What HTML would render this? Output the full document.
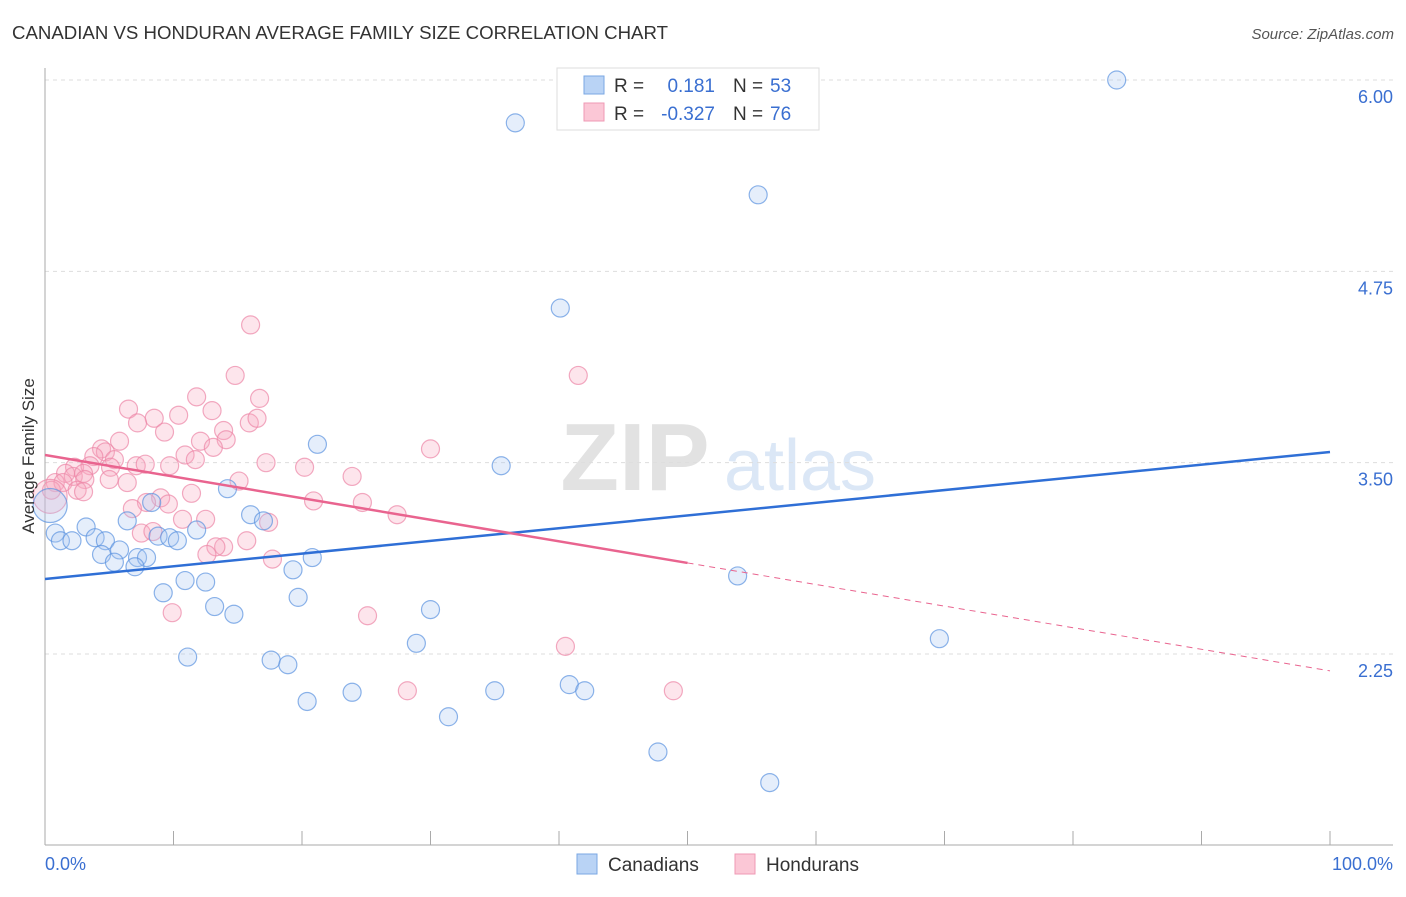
<!DOCTYPE html>
<html><head><meta charset="utf-8"><style>
body{margin:0;background:#fff;font-family:"Liberation Sans",sans-serif;}
svg text{font-family:"Liberation Sans",sans-serif;}
</style></head><body>
<svg width="1406" height="892">
<text x="12" y="39" font-size="18.5" fill="#333" textLength="656" lengthAdjust="spacingAndGlyphs">CANADIAN VS HONDURAN AVERAGE FAMILY SIZE CORRELATION CHART</text>
<text x="1394" y="39" font-size="15" fill="#555" font-style="italic" text-anchor="end">Source: ZipAtlas.com</text>
<g>
<text x="635" y="490" font-size="96" fill="#e2e2e2" text-anchor="middle" font-family="Liberation Serif" font-weight="bold">ZIP</text>
<text x="800" y="490" font-size="72" fill="#dbe7f6" text-anchor="middle">atlas</text>
</g>
<g id="grid"></g>
<g id="axes"></g>
<g id="marks"></g>
<g id="lines"></g>
<text x="34" y="456" font-size="17" fill="#333" text-anchor="middle" transform="rotate(-90 34 456)">Average Family Size</text>
<g>
<rect x="557" y="68" width="262" height="62" fill="#fff" stroke="#ddd"/>
<rect x="584" y="76" width="20" height="18" fill="#b9d3f5" stroke="#7aa7e3"/>
<rect x="584" y="103" width="20" height="18" fill="#fbc7d6" stroke="#ef9ab4"/>
<text x="614" y="92" font-size="19" fill="#333">R = </text><text x="715" y="92" font-size="19" fill="#3a6fd1" text-anchor="end">0.181</text>
<text x="733" y="92" font-size="19" fill="#333">N = </text><text x="770" y="92" font-size="19" fill="#3a6fd1">53</text>
<text x="614" y="120" font-size="19" fill="#333">R = </text><text x="715" y="120" font-size="19" fill="#3a6fd1" text-anchor="end">-0.327</text>
<text x="733" y="120" font-size="19" fill="#333">N = </text><text x="770" y="120" font-size="19" fill="#3a6fd1">76</text>
</g>
<g>
<rect x="577" y="854" width="20" height="20" fill="#b9d3f5" stroke="#7aa7e3"/>
<text x="608" y="871" font-size="19" fill="#333">Canadians</text>
<rect x="735" y="854" width="20" height="20" fill="#fbc7d6" stroke="#ef9ab4"/>
<text x="766" y="871" font-size="19" fill="#333">Hondurans</text>
</g>
</svg>
<script>
const yTicks=[2.25,3.50,4.75,6.00];
const yTickLabels=["2.25","3.50","4.75","6.00"];
const xEndLabels=["0.0%","100.0%"];
const canX=[36.6,83.4,55.5,40.1,21.2,35.5,14.2,8.3,6.4,16.0,17.0,11.8,3.2,0.8,1.2,2.1,3.9,4.7,8.8,9.7,10.3,5.8,4.4,5.4,7.2,7.9,7.0,20.8,19.3,10.9,12.5,9.2,19.7,13.2,14.7,30.0,28.9,11.1,17.6,18.9,23.9,35.0,40.8,42.0,20.4,31.4,47.7,56.4,53.9,69.6,0.4];
const canY=[5.72,6.00,5.25,4.51,3.62,3.48,3.33,3.24,3.12,3.16,3.12,3.06,3.08,3.04,2.99,2.99,3.01,2.99,3.02,3.01,2.99,2.93,2.90,2.85,2.88,2.88,2.82,2.88,2.80,2.73,2.72,2.65,2.62,2.56,2.51,2.54,2.32,2.23,2.21,2.18,2.00,2.01,2.05,2.01,1.94,1.84,1.61,1.41,2.76,2.35,3.22];
const honX=[16.0,14.8,16.7,11.8,6.5,13.0,8.5,10.4,7.2,9.3,15.9,16.5,5.8,13.9,14.1,12.1,13.1,4.4,4.7,10.9,11.7,3.8,5.4,17.2,9.7,7.1,7.8,2.3,3.5,1.6,2.2,3.0,5.1,20.2,23.9,5.0,6.4,3.1,0.8,1.4,2.5,3.0,0.5,15.1,30.0,11.4,9.0,7.9,9.6,6.8,20.9,24.7,27.4,17.4,10.7,12.5,7.5,8.4,13.9,13.3,12.6,15.7,17.7,9.9,25.1,28.2,41.5,40.5,48.9,0.4];
const honY=[4.40,4.07,3.92,3.93,3.85,3.84,3.79,3.81,3.76,3.70,3.76,3.79,3.64,3.71,3.65,3.64,3.60,3.59,3.57,3.55,3.52,3.54,3.52,3.50,3.48,3.48,3.49,3.47,3.48,3.43,3.41,3.43,3.47,3.47,3.41,3.39,3.37,3.39,3.37,3.37,3.32,3.31,3.32,3.38,3.59,3.30,3.27,3.24,3.23,3.20,3.25,3.24,3.16,3.11,3.13,3.13,3.04,3.05,2.95,2.95,2.90,2.99,2.87,2.52,2.50,2.01,4.07,2.30,2.01,3.28];
const canTrend=[2.74,3.57];
const honTrend=[3.55,2.14];
const honSolidEnd=50;
const NS="http://www.w3.org/2000/svg";
const xs=v=>45+v*12.85;
const ys=v=>80+(6-v)*153.07;
function mk(tag,attrs,parent){const e=document.createElementNS(NS,tag);for(const k in attrs)e.setAttribute(k,attrs[k]);parent.appendChild(e);return e;}
const grid=document.getElementById('grid'),axes=document.getElementById('axes'),marks=document.getElementById('marks'),lines=document.getElementById('lines');
yTicks.forEach((t,i)=>{
 const g=mk('line',{x1:45,x2:1393,y1:ys(t),y2:ys(t),stroke:'#ddd','stroke-dasharray':'4,4'},grid);
 
 
 const l=mk('text',{x:1393,y:ys(t)+23,'font-size':18,fill:'#3a6fd1','text-anchor':'end'},axes);
 l.textContent=yTickLabels[i];
 
 
});
const ya=mk('line',{x1:45,x2:45,y1:68,y2:845,stroke:'#aaa'},axes);


const xa=mk('line',{x1:45,x2:1393,y1:845,y2:845,stroke:'#aaa'},axes);


for(let i=1;i<=10;i++){const t=mk('line',{x1:xs(i*10),x2:xs(i*10),y1:831,y2:845,stroke:'#aaa'},axes);
 
 }
[[0,'start',45],[100,'end',1393]].forEach((d,i)=>{const l=mk('text',{x:d[2],y:870,'font-size':18,fill:'#3a6fd1','text-anchor':d[1]},axes);l.textContent=xEndLabels[i];
 
 });
function pts(X,Y,fill,stroke,name){X.forEach((x,i)=>{const big=(i===X.length-1);
 const c=mk('circle',{cx:xs(x),cy:ys(Y[i]),r:big?17:9,fill:fill,'fill-opacity':0.3,stroke:stroke,'stroke-opacity':0.7,'stroke-width':1.2},marks);
 
 });}
pts(honX,honY,'#f8a9c0','#ec86a6','honduran-point');
pts(canX,canY,'#a9c8f1','#5b93e0','canadian-point');
const bl=mk('line',{x1:xs(0),y1:ys(canTrend[0]),x2:xs(100),y2:ys(canTrend[1]),stroke:'#2f6fd6','stroke-width':2.5},lines);


const hy=v=>honTrend[0]+(honTrend[1]-honTrend[0])*v/100;
const pl=mk('line',{x1:xs(0),y1:ys(hy(0)),x2:xs(honSolidEnd),y2:ys(hy(honSolidEnd)),stroke:'#e9648f','stroke-width':2.5},lines);


const pd=mk('line',{x1:xs(honSolidEnd),y1:ys(hy(honSolidEnd)),x2:xs(100),y2:ys(hy(100)),stroke:'#e9648f','stroke-width':1,'stroke-dasharray':'6,5'},lines);


</script>
</body></html>
